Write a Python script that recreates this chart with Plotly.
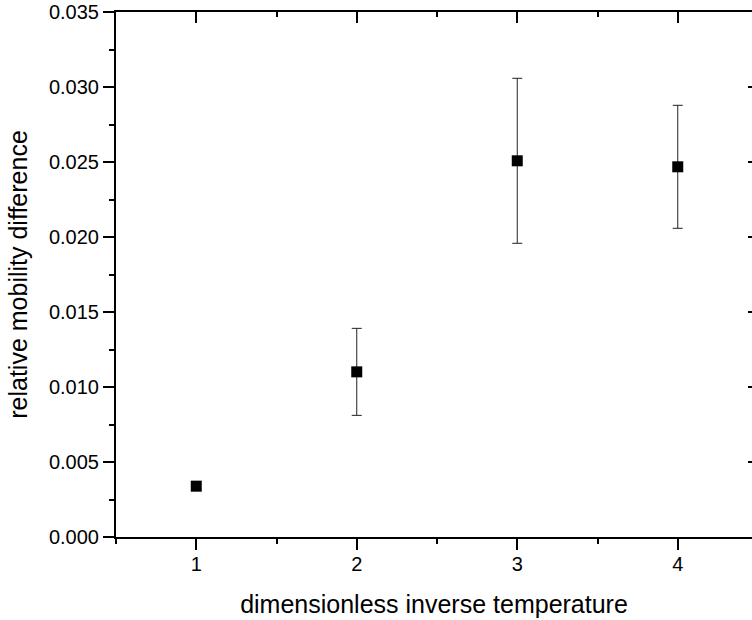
import plotly.graph_objects as go

# Data
x_vals = [1, 2, 3, 4]
y_vals = [0.00339, 0.01101, 0.02508, 0.02468]
y_err = [0.0003, 0.0029, 0.0055, 0.0041]

x_title = "dimensionless inverse temperature"
y_title = "relative mobility difference"

x_range = [0.5, 4.4626]
y_range = [0.0, 0.035]

FONT = "Liberation Sans, Arial, sans-serif"

fig = go.Figure()
fig.add_trace(go.Scatter(
    x=x_vals, y=y_vals, mode="markers",
    marker=dict(symbol="square", size=11, color="black", line=dict(width=0)),
    error_y=dict(type="data", array=y_err, visible=True, color="#222222",
                 thickness=1, width=5),
    showlegend=False,
))
# invisible helper trace for the mirrored top/right axes
fig.add_trace(go.Scatter(
    x=x_vals, y=y_vals, mode="markers", xaxis="x2", yaxis="y2",
    marker=dict(opacity=0), hoverinfo="skip", showlegend=False,
))

fig.update_layout(
    width=752, height=620,
    margin=dict(l=116, r=0, t=12, b=83),
    paper_bgcolor="white", plot_bgcolor="white",
    font=dict(family=FONT, color="black", size=20),
    xaxis=dict(
        range=x_range, tick0=1, dtick=1, ticks="outside", ticklen=11, tickwidth=1.5,
        tickcolor="black", showline=True, linecolor="black", linewidth=2,
        showgrid=False, zeroline=False,
        tickfont=dict(size=20), ticklabelstandoff=-3,
        minor=dict(ticks="outside", ticklen=5, dtick=0.5, tick0=0.5,
                   tickwidth=1.5, tickcolor="black", showgrid=False),
        title=dict(text=x_title, font=dict(size=25), standoff=21),
    ),
    yaxis=dict(
        range=y_range, tick0=0, dtick=0.005, tickformat=".3f",
        ticks="outside", ticklen=11, tickwidth=1.5, tickcolor="black",
        showline=True, linecolor="black", linewidth=2,
        showgrid=False, zeroline=False,
        tickfont=dict(size=20),
        minor=dict(ticks="outside", ticklen=5, dtick=0.0025, tick0=0,
                   tickwidth=1.5, tickcolor="black", showgrid=False),
        title=dict(text=y_title, font=dict(size=25), standoff=14),
    ),
    xaxis2=dict(
        overlaying="x", side="top", anchor="y", range=x_range, tick0=1, dtick=1,
        ticks="inside", ticklen=11, tickwidth=1.5, tickcolor="black",
        showline=True, linecolor="black", linewidth=2, showticklabels=False,
        showgrid=False, zeroline=False,
        minor=dict(ticks="inside", ticklen=5, dtick=0.5, tick0=0.5,
                   tickwidth=1.5, tickcolor="black", showgrid=False),
    ),
    yaxis2=dict(
        overlaying="y", side="right", anchor="x", range=y_range, tick0=0, dtick=0.005,
        ticks="inside", ticklen=4, tickwidth=1.5, tickcolor="black",
        showline=False, showticklabels=False, showgrid=False, zeroline=False,
    ),
)

fig.write_html("out.html")
